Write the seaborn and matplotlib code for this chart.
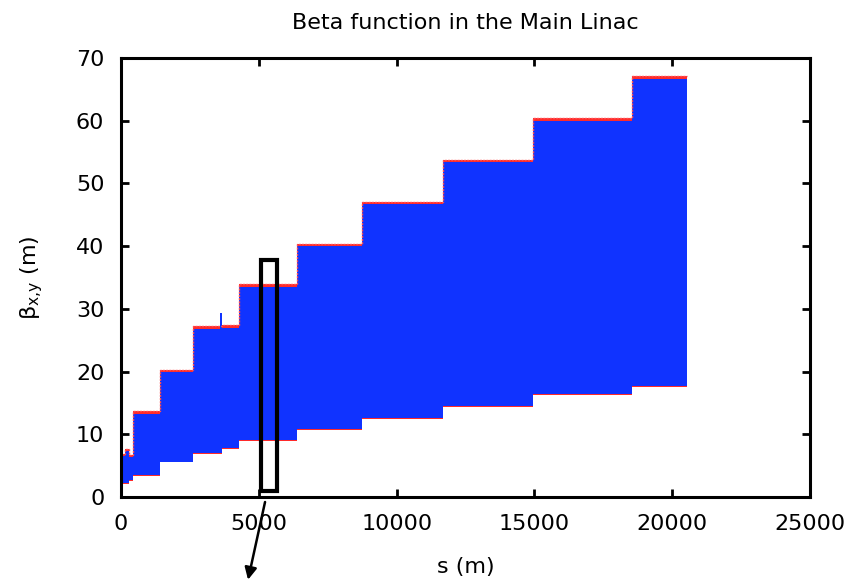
import numpy as np
import pandas as pd
import matplotlib
matplotlib.use("Agg")
import matplotlib.pyplot as plt
import matplotlib.patches as mpatches
import seaborn as sns

# ---- data ----
seg_start = [0, 150, 300, 435, 1415, 2612, 3590, 3665, 4280,
             6386, 8745, 11684, 14949, 18541]
s_end = 20537
beta_upper = [6.5, 7.3, 6.3, 13.3, 19.9, 26.8, 29.3, 27.0, 33.5,
              40.0, 46.7, 53.4, 60.0, 66.7]
beta_upper_red = [6.9, 7.7, 6.7, 13.7, 20.3, 27.2, 27.3, 27.4, 33.9,
                  40.4, 47.1, 53.8, 60.4, 67.1]
beta_lower = [2.2, 2.2, 2.7, 3.5, 5.6, 7.0, 7.0, 7.8, 9.1,
              10.8, 12.6, 14.5, 16.4, 17.7]

x_ticks = [0, 5000, 10000, 15000, 20000, 25000]
y_ticks = [0, 10, 20, 30, 40, 50, 60, 70]

box_s = (5080, 5660)
box_beta = (0.96, 37.8)
arrow_start = (5225, -0.8)
arrow_tip = (4608, -13.2)

# ---- styling ----
sns.set_theme(style="ticks")
plt.rcParams["font.family"] = ["DejaVu Sans"]
plt.rcParams["mathtext.fontset"] = "dejavusans"
plt.rcParams["text.color"] = "black"
plt.rcParams["axes.labelcolor"] = "black"

s = np.array(seg_start + [s_end], dtype=float)
up = np.array(beta_upper + [beta_upper[-1]])
up_red = np.array(beta_upper_red + [beta_upper_red[-1]])
lo = np.array(beta_lower + [beta_lower[-1]])
df = pd.DataFrame({"s": s, "upper": up, "upper_red": up_red, "lower": lo})

fig = plt.figure(figsize=(8.5, 5.81), dpi=100)
ax = fig.add_axes([0.1424, 0.1446, 0.8106, 0.7556])

# red beta (second plane) slightly outside the blue band
ax.fill_between(df["s"], df["lower"] - 0.1, df["upper_red"],
                step="post", color="#ff2a2a", lw=0)
sns.lineplot(data=df, x="s", y="upper_red", ax=ax, color="#ff5050",
             lw=1.0, drawstyle="steps-post", ls=(0, (1.5, 0.8)))
ax.fill_between(df["s"], df["lower"], df["upper"], step="post",
                color="#1033ff", lw=0)

ax.set_xlim(0, 25000)
ax.set_ylim(0, 70)
ax.set_xticks(x_ticks)
ax.set_yticks(y_ticks)
ax.set_xlabel("s (m)", fontsize=16, labelpad=17)
ax.set_ylabel(r"β$_{\mathrm{x{,}y}}$ (m)", fontsize=16, labelpad=22)
ax.set_title("Beta function in the Main Linac", fontsize=16, pad=21)

ax.tick_params(direction="in", length=6, width=2, labelsize=16,
               top=True, right=True, pad=12, colors="black")
for sp in ax.spines.values():
    sp.set_linewidth(2.2)
    sp.set_color("black")

rect = mpatches.Rectangle((box_s[0], box_beta[0]), box_s[1] - box_s[0],
                          box_beta[1] - box_beta[0], fill=False,
                          ec="black", lw=3, zorder=5, clip_on=False)
ax.add_patch(rect)
ax.annotate("", xy=arrow_tip, xytext=arrow_start, xycoords="data",
            annotation_clip=False,
            arrowprops=dict(arrowstyle="-|>", color="black", lw=1.8,
                            mutation_scale=18, shrinkA=0, shrinkB=0))

fig.savefig("out.png", dpi=100)
